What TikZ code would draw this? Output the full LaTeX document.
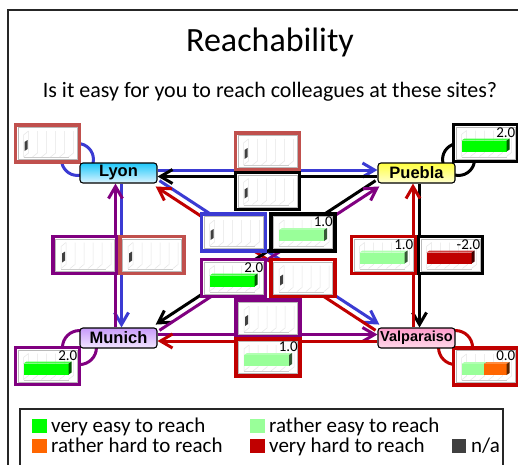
\documentclass[tikz,border=0pt]{standalone}
\usepackage{fontspec}
\setmainfont{Carlito}
\newfontfamily\sitefont{Liberation Sans}
\usepackage{tikz}
\usetikzlibrary{arrows.meta,positioning,calc,backgrounds}
\definecolor{lyonc}{HTML}{3B3BD3}
\definecolor{munichc}{HTML}{800080}
\definecolor{valpc}{HTML}{C00000}
\definecolor{brick}{HTML}{C0504D}
\definecolor{veryeasy}{HTML}{00FF00}
\definecolor{ratheasy}{HTML}{99FF99}
\definecolor{rathhard}{HTML}{FF6600}
\definecolor{veryhard}{HTML}{C00000}
\definecolor{nacol}{HTML}{404040}
\definecolor{lyontop}{HTML}{1EC8FA}
\definecolor{lyonbot}{HTML}{DDF4FF}
\definecolor{pueblatop}{HTML}{FFFF40}
\definecolor{pueblabot}{HTML}{FFFFD0}
\definecolor{munichtop}{HTML}{C89BFA}
\definecolor{munichbot}{HTML}{F2E6FF}
\definecolor{valptop}{HTML}{FF9CCB}
\definecolor{valpbot}{HTML}{FFD9EA}
% small chart inside a box
\newcommand{\chartgrid}[1]{%
  \begin{scope}[shift={(#1.north west)}]
    \draw[gray!55,line width=0.6pt] (2.5,2.5) rectangle (61.5,34.5);
    \foreach \gx in {13,22,31,40,49,58}
      \draw[gray!20,line width=0.5pt] (\gx-5,32) -- (\gx,28) -- (\gx,6);
    \draw[gray!20,line width=0.5pt] (8,32) -- (8,10) -- (13,6);
    \draw[gray!40,line width=0.5pt] (8,32.5) -- (53,32.5);
  \end{scope}}
\newcommand{\namark}[1]{%
  \fill[nacol] ([shift={(9,17)}]#1.north west) -- ++(3,-2) -- ++(0,9) -- ++(-3,2) -- cycle;}
\newcommand{\valbar}[4]{%
  \begin{scope}[shift={(#1.north west)}]
    \fill[#4!75!white] (#2,16) -- (#2+3,14) -- (#3+3,14) -- (#3,16) -- cycle;
    \fill[#4] (#2,16) rectangle (#3,27);
    \fill[#4!35!black] (#3,16) -- (#3+3,14) -- (#3+3,25) -- (#3,27) -- cycle;
  \end{scope}}
\newcommand{\vallabel}[2]{%
  \node[vallab] (#1lab) at ([shift={(-2,3)}]#1.north east) {#2};}

\begin{document}
\begin{tikzpicture}[x=1pt,y=-1pt,
  site/.style={draw,line width=1.1pt,rounded corners=3pt,minimum width=77pt,minimum height=20pt,inner sep=0pt,font=\fontsize{16.5}{18}\selectfont\sitefont\bfseries},
  chart/.style={draw=#1,line width=3.2pt,fill=white,minimum width=64pt,minimum height=37pt,inner sep=0pt,outer sep=0pt},
  vallab/.style={anchor=north east,inner sep=0pt,font=\fontsize{15}{16}\selectfont},
  link/.style={line width=3pt,-{Straight Barb[length=12pt,width=14pt]}},
  selfloop/.style={line width=3pt},
  key/.style={fill=#1,minimum size=14.5pt,inner sep=0pt},
  keytext/.style={anchor=base west,inner sep=0pt,font=\fontsize{21}{24}\selectfont}]
\useasboundingbox (0,0) rectangle (518,464);
\draw[line width=1.4pt,black!85] (8,10) rectangle (540,490);
\node[font=\fontsize{34}{40}\selectfont] (title) at (270,42) {Reachability};
\node[font=\fontsize{22}{26}\selectfont] (question) at (270,92) {Is it easy for you to reach colleagues at these sites?};

\node[chart=brick] (lyonself) at (47.5,143.5) {};
\node[chart=black] (pueblaself) at (485.5,143) {};
\node[chart=munichc] (munichself) at (47.5,366) {};
\node[chart=valpc] (valpself) at (485.5,366.5) {};
\node[chart=brick] (topa) at (267.5,151.5) {};
\node[chart=black] (topb) at (267.5,191) {};
\node[chart=munichc] (lefta) at (85,255) {};
\node[chart=brick] (leftb) at (152,255) {};
\node[chart=valpc] (righta) at (383.5,255) {};
\node[chart=black] (rightb) at (450.5,255) {};
\node[chart=lyonc] (cena) at (233.5,232.5) {};
\node[chart=black] (cenb) at (303,232.5) {};
\node[chart=munichc] (cenc) at (233.5,278) {};
\node[chart=valpc] (cend) at (303,278) {};
\node[chart=munichc] (bota) at (268,318.5) {};
\node[chart=valpc] (botb) at (268,357.5) {};

\foreach \c in {lyonself,pueblaself,munichself,valpself,topa,topb,lefta,leftb,righta,rightb,cena,cenb,cenc,cend,bota,botb}
  \chartgrid{\c};
\foreach \c in {lyonself,topa,topb,lefta,leftb,cena,cend,bota}
  \namark{\c};
\valbar{pueblaself}{8}{53}{veryeasy}\vallabel{pueblaself}{2.0}
\valbar{munichself}{8}{53}{veryeasy}\vallabel{munichself}{2.0}
\valbar{valpself}{8}{30.5}{ratheasy}\valbar{valpself}{30.5}{53}{rathhard}\vallabel{valpself}{0.0}
\valbar{righta}{8}{53}{ratheasy}\vallabel{righta}{1.0}
\valbar{rightb}{8}{53}{veryhard}\vallabel{rightb}{-2.0}
\valbar{cenb}{8}{53}{ratheasy}\vallabel{cenb}{1.0}
\valbar{cenc}{8}{53}{veryeasy}\vallabel{cenc}{2.0}
\valbar{botb}{8}{53}{ratheasy}\vallabel{botb}{1.0}

\node[site,top color=lyontop,bottom color=lyonbot] (lyon) at (118.5,173) {Lyon};
\node[site,top color=pueblatop,bottom color=pueblabot] (puebla) at (416.5,173) {Puebla};
\node[site,top color=munichtop,bottom color=munichbot] (munich) at (118.5,338) {Munich};
\node[site,top color=valptop,bottom color=valpbot,font=\fontsize{14.5}{16}\selectfont\sitefont\bfseries] (valp) at (416.5,338) {Valparaiso};

\begin{scope}[on background layer]
\draw[selfloop,lyonc] ([shift={(-2,-3)}]lyon.north west) circle[radius=16pt];
\draw[selfloop,black] ([shift={(3,-3)}]puebla.north east) circle[radius=16pt];
\draw[selfloop,munichc] ([shift={(0,-1)}]munich.south west) circle[radius=17pt];
\draw[selfloop,valpc] ([shift={(0,-1)}]valp.south east) circle[radius=17pt];
\draw[link,lyonc] ([yshift=3pt]lyon.east) -- ([yshift=3pt]puebla.west);
\draw[link,black] ([yshift=-3.5pt]puebla.west) -- ([yshift=-3.5pt]lyon.east);
\draw[link,lyonc] ([xshift=3pt]lyon.south) -- ([xshift=3pt]munich.north);
\draw[link,munichc] ([xshift=-3pt]munich.north) -- ([xshift=-3pt]lyon.south);
\draw[link,black] ([xshift=3pt]puebla.south) -- ([xshift=3pt]valp.north);
\draw[link,valpc] ([xshift=-3.5pt]valp.north) -- ([xshift=-3.5pt]puebla.south);
\draw[link,munichc] ([yshift=3.5pt]munich.east) -- ([yshift=3.5pt]valp.west);
\draw[link,valpc] ([yshift=-3pt]valp.west) -- ([yshift=-3pt]munich.east);
\draw[link,lyonc] ([shift={(1.9,-2.9)}]lyon.south east) -- ([shift={(1.9,-2.9)}]valp.north west);
\draw[link,valpc] ([shift={(-1.9,2.9)}]valp.north west) -- ([shift={(-1.9,2.9)}]lyon.south east);
\draw[link,black] ([shift={(-1.9,-2.9)}]puebla.south west) -- ([shift={(-1.9,-2.9)}]munich.north east);
\draw[link,munichc] ([shift={(1.9,2.9)}]munich.north east) -- ([shift={(1.9,2.9)}]puebla.south west);
\end{scope}

\draw[line width=1.3pt,black!85] (20,409) rectangle (503,480);
\node[key=veryeasy] (k1) at (39.5,426) {};
\node[keytext] (t1) at (51,432.5) {very easy to reach};
\node[key=ratheasy] (k2) at (257.5,426) {};
\node[keytext] (t2) at (269,432.5) {rather easy to reach};
\node[key=rathhard] (k3) at (39.5,446) {};
\node[keytext] (t3) at (51,452.5) {rather hard to reach};
\node[key=veryhard] (k4) at (257.5,446) {};
\node[keytext] (t4) at (269,452.5) {very hard to reach};
\node[key=nacol] (k5) at (459,446) {};
\node[keytext] (t5) at (471,452.5) {n/a};
\end{tikzpicture}
\end{document}
